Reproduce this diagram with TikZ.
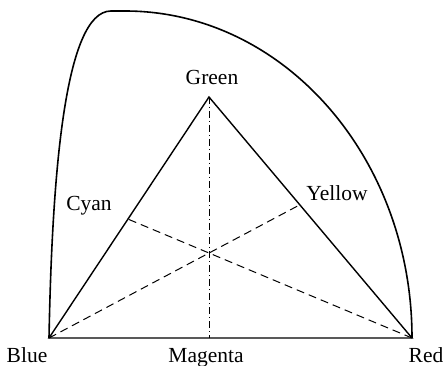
\documentclass[tikz,border=0pt]{standalone}
\usepackage{fontspec}
\setmainfont{Liberation Serif}
\begin{document}
\begin{tikzpicture}[x=1pt,y=-1pt,
  lbl/.style={inner sep=0pt,anchor=base,font=\fontsize{21.5}{25}\selectfont},
  edge/.style={line width=1.4pt,line join=miter},
  hull/.style={line width=1.6pt},
  median/.style={line width=1pt,dash pattern=on 8pt off 5pt},
  axis/.style={line width=1pt,dash pattern=on 7pt off 3pt on 1pt off 3pt}]
\useasboundingbox (0,0) rectangle (444,366);
% vertices
\coordinate (B) at (49,338);
\coordinate (R) at (412,338);
\coordinate (G) at (209,97);
\coordinate (M) at (209,338);
\coordinate (W) at (209,253);
\coordinate (Y) at (intersection of B--W and G--R);
\coordinate (C) at (intersection of R--W and B--G);
\coordinate (K) at (111,11);
\coordinate (T) at (125,11);
% outer boundary
\draw[hull] (B) .. controls (52,180) and (64,11) .. (K) -- (T)
  arc[start angle=90,end angle=0,x radius=287,y radius=-327];
% triangle
\draw[edge] (B) -- (G) -- (R) -- cycle;
% inner lines
\draw[axis] (G) -- (M);
\draw[median] (B) -- (Y);
\draw[median] (R) -- (C);
% labels
\node[lbl] (lG) at (212,85) {Green};
\node[lbl] (lC) at (89,211) {Cyan};
\node[lbl] (lY) at (337,200.5) {Yellow};
\node[lbl] (lB) at (27,362) {Blue};
\node[lbl] (lM) at (206,362) {Magenta};
\node[lbl] (lR) at (426,362) {Red};
\end{tikzpicture}
\end{document}
